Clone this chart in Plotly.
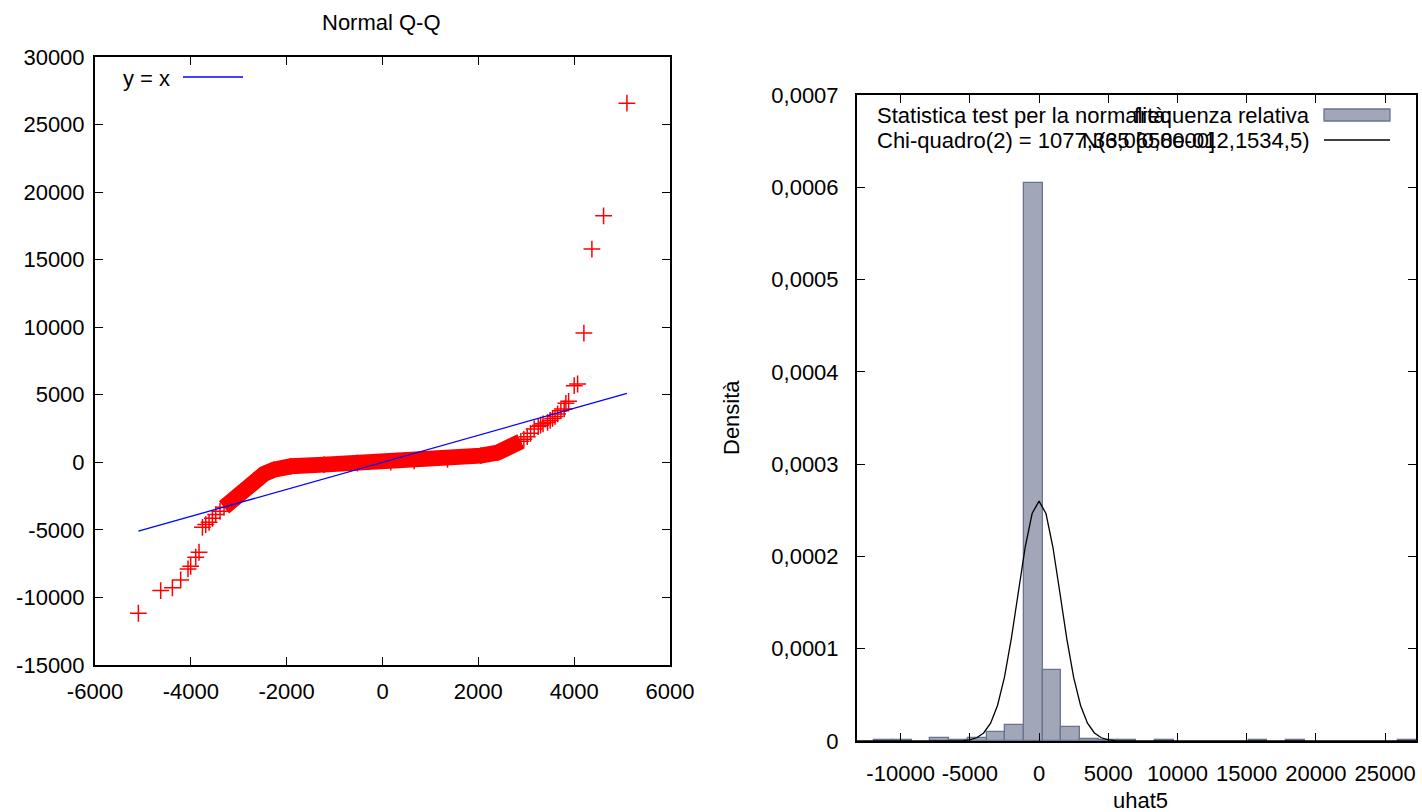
import plotly.graph_objects as go

W, H = 1422, 812
FONT = "Liberation Sans, Arial, Helvetica, sans-serif"

# ---------------- Normal Q-Q data ----------------
# dense central band of the Q-Q plot (theoretical quantile, sample quantile)
band_x = [-3307, -3099, -2890, -2681, -2472, -2263, -1915, -1219, -522, 173,
          660, 1357, 2053, 2401, 2610, 2888]
band_y = [-3328, -2633, -2093, -1353, -858, -540, -296, -170, -59, 10,
          104, 222, 496, 717, 1065, 1553]
# separated points in the tails
tail_x = [-5095, -4629, -4385, -4211, -4059, -4003, -3898, -3829, -3758, -3689,
          -3620, -3550, -3481, -3391,
          2950, 3020, 3090, 3166, 3250, 3300, 3350, 3445, 3500, 3550, 3600, 3654,
          3723, 3792, 3827, 3884, 4001, 4072, 4203, 4370, 4614, 5101]
tail_y = [-11168, -9489, -9290, -8700, -7886, -7692, -7026, -6656, -4807, -4608,
          -4438, -4142, -3868, -3624,
          1700, 1900, 2150, 2470, 2650, 2750, 2850, 2960, 3100, 3250, 3400, 3580,
          3824, 3950, 4364, 4512, 5673, 5798, 9570, 15783, 18246, 26582]

qq_xticks = [-6000, -4000, -2000, 0, 2000, 4000, 6000]
qq_yticks = [-15000, -10000, -5000, 0, 5000, 10000, 15000, 20000, 25000, 30000]

# ---------------- Histogram data ----------------
hist_centers = [-11230, -9877.5, -8525, -7172.5, -5820, -4467.5, -3115, -1762.5,
                -410, 942.5, 2295, 3647.5, 5000, 6352.5, 7705, 9057.5, 10410,
                11762.5, 13115, 14467.5, 15820, 17172.5, 18525, 19877.5, 21230,
                22582.5, 23935, 25287.5, 26640]
hist_density = [6.9e-7, 1.4e-6, 0, 2.8e-6, 6.9e-7, 3.3e-6, 9.8e-6, 1.73e-5,
                6.05e-4, 7.69e-5, 1.52e-5, 2.6e-6, 1.4e-6, 1.4e-6, 0, 6.9e-7, 0,
                0, 0, 0, 6.9e-7, 0, 6.9e-7, 0, 0, 0, 0, 0, 6.9e-7]

# normal density curve N(3,0658e-012, 1534,5)
norm_x = [-13150, -7000, -6000, -5500, -5000, -4500, -4000, -3500, -3000, -2500,
          -2000, -1500, -1000, -500, 0, 500, 1000, 1500, 2000, 2500, 3000, 3500,
          4000, 4500, 5000, 5500, 6000, 7000, 27230]
norm_y = [0, 0, 1.2e-7, 4.2e-7, 1.3e-6, 3.5e-6, 8.7e-6, 1.93e-5, 3.85e-5, 6.90e-5,
          1.112e-4, 1.612e-4, 2.102e-4, 2.465e-4, 2.600e-4, 2.465e-4, 2.102e-4,
          1.612e-4, 1.112e-4, 6.90e-5, 3.85e-5, 1.93e-5, 8.7e-6, 3.5e-6, 1.3e-6,
          4.2e-7, 1.2e-7, 0, 0]

h_xticks = [-10000, -5000, 0, 5000, 10000, 15000, 20000, 25000]
h_yticks = [0, 0.0001, 0.0002, 0.0003, 0.0004, 0.0005, 0.0006, 0.0007]
h_yticktext = ["0", "0,0001", "0,0002", "0,0003", "0,0004", "0,0005", "0,0006", "0,0007"]

bin_width = hist_centers[1] - hist_centers[0]

fig = go.Figure()

red = "#ff0000"
# band drawn as thick line (overlapping crosses) plus crosses
fig.add_trace(go.Scatter(x=band_x, y=band_y, mode="lines+markers",
                         line=dict(color=red, width=16),
                         marker=dict(symbol="cross-thin", size=12, color=red,
                                     line=dict(color=red, width=1.5)),
                         showlegend=False, xaxis="x", yaxis="y", hoverinfo="skip"))
fig.add_trace(go.Scatter(x=tail_x, y=tail_y, mode="markers",
                         marker=dict(symbol="cross-thin", size=12, color=red,
                                     line=dict(color=red, width=1.5)),
                         showlegend=False, xaxis="x", yaxis="y"))
allx = band_x + tail_x
lo, hi = min(allx), max(allx)
fig.add_trace(go.Scatter(x=[lo, hi], y=[lo, hi], mode="lines",
                         line=dict(color="#0000ff", width=1.3),
                         showlegend=False, xaxis="x", yaxis="y"))

# histogram
fig.add_trace(go.Bar(x=hist_centers, y=[d if d > 0 else None for d in hist_density],
                     width=bin_width,
                     marker=dict(color="#a1a7b8", line=dict(color="#6a748e", width=1.3)),
                     showlegend=False, xaxis="x2", yaxis="y2"))
fig.add_trace(go.Scatter(x=norm_x, y=norm_y, mode="lines",
                         line=dict(color="black", width=1.3),
                         showlegend=False, xaxis="x2", yaxis="y2"))

axis_common = dict(showline=True, linecolor="black", linewidth=2, mirror="ticks",
                   ticks="inside", ticklen=8, tickwidth=1, tickcolor="black",
                   showgrid=False, zeroline=False, automargin=False,
                   tickfont=dict(family=FONT, size=22, color="black"))

L_x0, L_x1, L_y0, L_y1 = 95, 670, 57, 665
R_x0, R_x1, R_y0, R_y1 = 857, 1416, 95, 741

fig.update_layout(
    template="none",
    width=W, height=H, margin=dict(l=0, r=0, t=0, b=0, pad=0, autoexpand=False),
    paper_bgcolor="white", plot_bgcolor="white",
    font=dict(family=FONT, size=22, color="black"),
    bargap=0,
    xaxis=dict(domain=[L_x0 / W, L_x1 / W], range=[-6000, 6000], anchor="y",
               tickvals=qq_xticks, ticktext=[str(v) for v in qq_xticks],
               ticklabelstandoff=6, **axis_common),
    yaxis=dict(domain=[1 - L_y1 / H, 1 - L_y0 / H], range=[-15000, 30000], anchor="x",
               tickvals=qq_yticks, ticktext=[str(v) for v in qq_yticks],
               ticklabelstandoff=4, **axis_common),
    xaxis2=dict(domain=[R_x0 / W, R_x1 / W], range=[-13150, 27230], anchor="y2",
                tickvals=h_xticks, ticktext=[str(v) for v in h_xticks],
                ticklabelstandoff=12, **axis_common),
    yaxis2=dict(domain=[1 - R_y1 / H, 1 - R_y0 / H], range=[0, 0.0007], anchor="x2",
                tickvals=h_yticks, ticktext=h_yticktext,
                ticklabelstandoff=12, **axis_common),
)

def px(x):
    return x / W

def py(y):
    return 1 - y / H

ann = []
def text(x, y, s, xa="left", angle=0):
    ann.append(dict(x=px(x), y=py(y), xref="paper", yref="paper", text=s,
                    showarrow=False, xanchor=xa, yanchor="middle", textangle=angle,
                    font=dict(family=FONT, size=22, color="black")))

text(382, 22, "Normal Q-Q", "center")
text(121, 78, "y = x", "left")
text(875, 115, "Statistica test per la normalità:", "left")
text(875, 140, "Chi-quadro(2) = 1077,365 [0,0000]", "left")
text(1312, 115, "frequenza relativa", "right")
text(1312, 140, "N(3,0658e-012,1534,5)", "right")
text(731, 418, "Densità", "center", -90)
text(1140, 800, "uhat5", "center")
fig.update_layout(annotations=ann)

shapes = [
    dict(type="line", xref="paper", yref="paper", x0=px(183), x1=px(243),
         y0=py(77), y1=py(77), line=dict(color="#0000ff", width=1.3)),
    dict(type="rect", xref="paper", yref="paper", x0=px(1324), x1=px(1390),
         y0=py(121), y1=py(109), fillcolor="#a1a7b8",
         line=dict(color="#6a748e", width=1.3)),
    dict(type="line", xref="paper", yref="paper", x0=px(1324), x1=px(1390),
         y0=py(140), y1=py(140), line=dict(color="black", width=1.3)),
]
fig.update_layout(shapes=shapes)

fig.write_html("out.html")
